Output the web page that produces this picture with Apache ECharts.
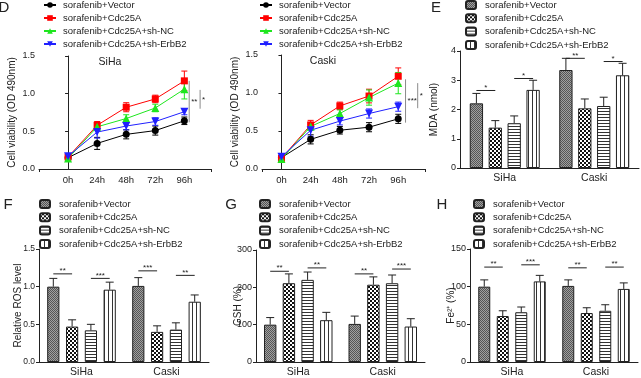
<!DOCTYPE html>
<html>
<head>
<meta charset="utf-8">
<script src="https://cdn.jsdelivr.net/npm/echarts@6/dist/echarts.min.js"></script>
<style>
html, body { margin: 0; padding: 0; background: #fff; }
#wrap { position: relative; width: 641px; height: 378px; overflow: hidden; }
.p { position: absolute; left: 0; top: 0; width: 641px; height: 378px; }
</style>
</head>
<body>
<div id="wrap">
  <div class="p" id="d1"></div>
  <div class="p" id="d2"></div>
  <div class="p" id="e"></div>
  <div class="p" id="f"></div>
  <div class="p" id="g"></div>
  <div class="p" id="h"></div>
</div>
<script>
var groups = ['sorafenib+Vector', 'sorafenib+Cdc25A', 'sorafenib+Cdc25A+sh-NC', 'sorafenib+Cdc25A+sh-ErbB2'];
var hours = [0, 24, 48, 72, 96];
var cells = ['SiHa', 'Caski'];

// D - cell viability, SiHa
var sihaVector = [0.15, 0.34, 0.46, 0.51, 0.64];
var sihaVectorErr = [0.02, 0.08, 0.06, 0.06, 0.05];
var sihaCdc = [0.16, 0.58, 0.82, 0.93, 1.17];
var sihaCdcErr = [0.02, 0.05, 0.06, 0.05, 0.13];
var sihaNC = [0.14, 0.56, 0.67, 0.81, 1.06];
var sihaNCErr = [0.02, 0.04, 0.05, 0.05, 0.13];
var sihaErb = [0.17, 0.49, 0.57, 0.63, 0.76];
var sihaErbErr = [0.02, 0.08, 0.05, 0.05, 0.04];
// D - cell viability, Caski
var caskiVector = [0.15, 0.39, 0.51, 0.55, 0.66];
var caskiVectorErr = [0.02, 0.06, 0.05, 0.06, 0.06];
var caskiCdc = [0.14, 0.58, 0.83, 0.96, 1.22];
var caskiCdcErr = [0.02, 0.06, 0.05, 0.09, 0.11];
var caskiNC = [0.13, 0.56, 0.73, 0.94, 1.13];
var caskiNCErr = [0.02, 0.05, 0.05, 0.10, 0.14];
var caskiErb = [0.16, 0.51, 0.63, 0.73, 0.82];
var caskiErbErr = [0.02, 0.08, 0.05, 0.06, 0.06];
// significance: [hour position, from, to, label]
var sigD1 = [[100, 1.17, 0.62, '**'], [109, 1.05, 0.80, '*']];
var sigD2 = [[102, 1.18, 0.61, '***'], [112, 1.13, 0.80, '*']];

// E - MDA (nmol), [SiHa, Caski]
var mdaVector = [2.21, 3.35], mdaVectorErr = [0.34, 0.40];
var mdaCdc = [1.38, 2.04], mdaCdcErr = [0.24, 0.32];
var mdaNC = [1.53, 2.12], mdaNCErr = [0.25, 0.30];
var mdaErb = [2.67, 3.17], mdaErbErr = [0.33, 0.41];
var sigE = [[0, 0, 1, 2.65, '*'], [0, 2, 3, 3.06, '*'], [1, 0, 1, 3.75, '**'], [1, 2, 3, 3.64, '*']];

// F - relative ROS level
var rosVector = [1.0, 1.01], rosVectorErr = [0.11, 0.11];
var rosCdc = [0.47, 0.40], rosCdcErr = [0.09, 0.08];
var rosNC = [0.42, 0.43], rosNCErr = [0.08, 0.09];
var rosErb = [0.96, 0.80], rosErbErr = [0.10, 0.09];
var sigF = [[0, 0, 1, 1.17, '**'], [0, 2, 3, 1.11, '***'], [1, 0, 1, 1.21, '***'], [1, 2, 3, 1.15, '**']];

// G - GSH (%)
var gshVector = [100, 102], gshVectorErr = [19, 21];
var gshCdc = [211, 207], gshCdcErr = [25, 21];
var gshNC = [220, 211], gshNCErr = [21, 22];
var gshErb = [112, 95], gshErbErr = [21, 21];
var sigG = [[0, 0, 1, 243, '**'], [0, 2, 3, 252, '**'], [1, 0, 1, 236, '**'], [1, 2, 3, 249, '***']];

// H - Fe2+ (%)
var feVector = [100, 101], feVectorErr = [9, 8];
var feCdc = [61, 65], feCdcErr = [7, 7];
var feNC = [66, 68], feNCErr = [7, 8];
var feErb = [107, 97], feErbErr = [8, 8];
var sigH = [[0, 0, 1, 126, '**'], [0, 2, 3, 129, '***'], [1, 0, 1, 125, '**'], [1, 2, 3, 126, '**']];

var FONT = 'Liberation Sans, Arial, sans-serif';
var INK = '#222';

// fill patterns for the bar groups
function pattern(kind) {
    var c = document.createElement('canvas');
    var ctx;
    if (kind == 'grid') {
        c.width = 2; c.height = 2; ctx = c.getContext('2d');
        ctx.fillStyle = '#a0a0a0'; ctx.fillRect(0, 0, 2, 2);
        ctx.fillStyle = '#555'; ctx.fillRect(0, 0, 1, 1); ctx.fillRect(1, 1, 1, 1);
    } else if (kind == 'check') {
        c.width = 4; c.height = 4; ctx = c.getContext('2d');
        ctx.fillStyle = '#111'; ctx.fillRect(0, 0, 4, 4);
        ctx.fillStyle = '#fff'; ctx.fillRect(0, 0, 2, 2); ctx.fillRect(2, 2, 2, 2);
    } else if (kind == 'hline') {
        c.width = 3; c.height = 3; ctx = c.getContext('2d');
        ctx.fillStyle = '#fff'; ctx.fillRect(0, 0, 3, 3);
        ctx.fillStyle = '#333'; ctx.fillRect(0, 0, 3, 1);
    } else {
        c.width = 4; c.height = 4; ctx = c.getContext('2d');
        ctx.fillStyle = '#fff'; ctx.fillRect(0, 0, 4, 4);
        ctx.fillStyle = '#333'; ctx.fillRect(0, 0, 1, 4);
    }
    return { image: c, repeat: 'repeat' };
}
var fills = [pattern('grid'), pattern('check'), pattern('hline'), pattern('vline')];

function letter(t, x, y) {
    return { type: 'text', x: x, y: y, style: { text: t, font: '15px ' + FONT, fill: INK, align: 'center', verticalAlign: 'middle' } };
}

// ---------- line panels (D) ----------
var lineColors = ['#000000', '#ff0000', '#1ee61e', '#2020ff'];
var lineSymbols = ['circle', 'rect', 'triangle', 'triangle'];

function lineErr(vals, errs, color) {
    return {
        type: 'custom', silent: true, z: 1,
        data: vals.map(function (v, i) { return [hours[i], v, errs[i]]; }),
        encode: { x: 0, y: 1 },
        renderItem: function (params, api) {
            var lo = api.coord([api.value(0), api.value(1) - api.value(2)]);
            var hi = api.coord([api.value(0), api.value(1) + api.value(2)]);
            var x = lo[0];
            var st = { stroke: color, lineWidth: 1 };
            return { type: 'group', children: [
                { type: 'line', shape: { x1: x, y1: lo[1], x2: x, y2: hi[1] }, style: st },
                { type: 'line', shape: { x1: x - 3, y1: lo[1], x2: x + 3, y2: lo[1] }, style: st },
                { type: 'line', shape: { x1: x - 3, y1: hi[1], x2: x + 3, y2: hi[1] }, style: st }
            ] };
        }
    };
}

function lineSig(sig) {
    return {
        type: 'custom', silent: true, z: 5,
        data: sig.map(function (s) { return [s[0], s[1], s[2]]; }),
        encode: { x: 0, y: 1 },
        renderItem: function (params, api) {
            var a = api.coord([api.value(0), api.value(1)]);
            var b = api.coord([api.value(0), api.value(2)]);
            return { type: 'group', children: [
                { type: 'line', shape: { x1: a[0], y1: a[1], x2: b[0], y2: b[1] }, style: { stroke: '#8a8a8a', lineWidth: 1 } },
                { type: 'text', x: a[0] + 2, y: (a[1] + b[1]) / 2, style: { text: sig[params.dataIndex][3], font: '8px ' + FONT, fill: INK, align: 'left', verticalAlign: 'middle' } }
            ] };
        }
    };
}

function linePanel(id, box, xmin, means, errs, sig, title, titleX, titleY, legendLeft, extra) {
    var chart = echarts.init(document.getElementById(id));
    var series = [];
    for (var k = 0; k < 4; k++) series.push(lineErr(means[k], errs[k], lineColors[k]));
    for (var k = 0; k < 4; k++) {
        series.push({
            name: groups[k], type: 'line', z: 3,
            data: means[k].map(function (v, i) { return [hours[i], v]; }),
            symbol: lineSymbols[k], symbolRotate: k == 3 ? 180 : 0,
            symbolSize: k >= 2 ? 8 : 7,
            itemStyle: { color: lineColors[k] },
            lineStyle: { color: lineColors[k], width: 1 }
        });
    }
    series.push(lineSig(sig));
    var option = {
        animation: false,
        textStyle: { fontFamily: FONT },
        legend: {
            data: groups, orient: 'vertical', left: legendLeft, top: 0, padding: 0,
            itemWidth: 12, itemHeight: 7, itemGap: 3,
            textStyle: { fontSize: 9.5, color: INK, lineHeight: 10, padding: [0, 0, 0, 2] }
        },
        grid: { left: box[0], top: box[1], width: box[2], height: box[3] },
        xAxis: {
            type: 'value', min: xmin, max: 118,
            axisLine: { lineStyle: { color: INK } },
            splitLine: { show: false },
            axisTick: { customValues: [xmin, 118], length: 3, lineStyle: { color: INK } },
            axisLabel: { customValues: hours, formatter: '{value}h', fontSize: 9.5, color: INK, margin: 6 }
        },
        yAxis: {
            type: 'value', min: 0, max: 1.5, interval: 0.5,
            name: 'Cell viability (OD 490nm)', nameLocation: 'middle', nameGap: 22,
            nameMoveOverlap: false,
            nameTextStyle: { fontSize: 10, color: INK },
            axisLine: { show: true, lineStyle: { color: INK } },
            splitLine: { show: false },
            axisTick: { show: true, length: 3, lineStyle: { color: INK } },
            axisLabel: { fontSize: 9, color: INK, margin: 4, formatter: function (v) { return v.toFixed(1); } }
        },
        graphic: [
            { type: 'text', x: titleX, y: titleY, style: { text: title, font: '10.5px ' + FONT, fill: INK, align: 'center', verticalAlign: 'middle' } }
        ].concat(extra),
        series: series
    };
    chart.setOption(option);
}

linePanel('d1', [39, 56, 172, 113], -24,
    [sihaVector, sihaCdc, sihaNC, sihaErb], [sihaVectorErr, sihaCdcErr, sihaNCErr, sihaErbErr],
    sigD1, 'SiHa', 110, 62, 43, [letter('D', 4, 8)]);
linePanel('d2', [262, 55, 163, 114], -16,
    [caskiVector, caskiCdc, caskiNC, caskiErb], [caskiVectorErr, caskiCdcErr, caskiNCErr, caskiErbErr],
    sigD2, 'Caski', 323, 61, 259, []);

// ---------- bar panels (E-H) ----------
function barOffset(idx, w, gap) {
    var tot = 4 * w + 3 * gap;
    return -tot / 2 + w / 2 + idx * (w + gap);
}

function barErr(vals, errs, idx, w, gap) {
    return {
        type: 'custom', silent: true, z: 4,
        data: vals.map(function (v, i) { return [i, v, errs[i]]; }),
        encode: { x: 0, y: 1 },
        renderItem: function (params, api) {
            var p0 = api.coord([api.value(0), api.value(1)]);
            var p1 = api.coord([api.value(0), api.value(1) + api.value(2)]);
            var x = p0[0] + barOffset(idx, w, gap);
            var st = { stroke: INK, lineWidth: 1 };
            return { type: 'group', children: [
                { type: 'line', shape: { x1: x, y1: p0[1], x2: x, y2: p1[1] }, style: st },
                { type: 'line', shape: { x1: x - 4, y1: p1[1], x2: x + 4, y2: p1[1] }, style: st }
            ] };
        }
    };
}

function barSig(sig, w, gap) {
    return {
        type: 'custom', silent: true, z: 5,
        data: sig.map(function (s) { return [s[0], s[3]]; }),
        encode: { x: 0, y: 1 },
        renderItem: function (params, api) {
            var s = sig[params.dataIndex];
            var p = api.coord([api.value(0), api.value(1)]);
            var x1 = p[0] + barOffset(s[1], w, gap);
            var x2 = p[0] + barOffset(s[2], w, gap);
            return { type: 'group', children: [
                { type: 'line', shape: { x1: x1, y1: p[1], x2: x2, y2: p[1] }, style: { stroke: INK, lineWidth: 1 } },
                { type: 'text', x: (x1 + x2) / 2, y: p[1] + 1, style: { text: s[4], font: '8px ' + FONT, fill: INK, align: 'center', verticalAlign: 'bottom' } }
            ] };
        }
    };
}

function barPanel(id, box, ymax, step, yname, nameGap, means, errs, sig, w, gap, legendLeft, legendTop, extra) {
    var chart = echarts.init(document.getElementById(id));
    var series = [];
    for (var k = 0; k < 4; k++) {
        series.push({
            name: groups[k], type: 'bar', z: 2,
            data: means[k],
            barWidth: w, barGap: (gap / w * 100) + '%',
            itemStyle: { color: fills[k], borderColor: INK, borderWidth: 1 }
        });
    }
    for (var k = 0; k < 4; k++) series.push(barErr(means[k], errs[k], k, w, gap));
    series.push(barSig(sig, w, gap));
    var option = {
        animation: false,
        textStyle: { fontFamily: FONT },
        legend: {
            data: groups, orient: 'vertical', left: legendLeft, top: legendTop, padding: 0,
            itemWidth: 10, itemHeight: 8, itemGap: 3.3,
            textStyle: { fontSize: 9.5, color: INK, lineHeight: 10, padding: [0, 0, 0, 4] }
        },
        grid: { left: box[0], top: box[1], width: box[2], height: box[3] },
        xAxis: {
            type: 'category', data: cells,
            axisLine: { lineStyle: { color: INK } },
            axisTick: { alignWithLabel: true, length: 3, lineStyle: { color: INK } },
            axisLabel: { fontSize: 10.5, color: INK, margin: 5 }
        },
        yAxis: {
            type: 'value', min: 0, max: ymax, interval: step,
            name: yname, nameLocation: 'middle', nameGap: nameGap,
            nameMoveOverlap: false,
            nameTextStyle: { fontSize: 10, color: INK },
            axisLine: { show: true, lineStyle: { color: INK } },
            splitLine: { show: false },
            axisTick: { show: true, length: 3, lineStyle: { color: INK } },
            axisLabel: { fontSize: step < 1 ? 8.5 : 9, color: INK, margin: 4, formatter: step < 1 ? function (v) { return v.toFixed(1); } : '{value}' }
        },
        graphic: extra,
        series: series
    };
    chart.setOption(option);
}

barPanel('e', [460, 51, 179, 117], 4, 1, 'MDA (nmol)', 21,
    [mdaVector, mdaCdc, mdaNC, mdaErb], [mdaVectorErr, mdaCdcErr, mdaNCErr, mdaErbErr],
    sigE, 13.3, 5.6, 465, 0, [letter('E', 436, 8)]);
barPanel('f', [39, 249, 170, 113], 1.5, 0.5, 'Relative ROS level', 16,
    [rosVector, rosCdc, rosNC, rosErb], [rosVectorErr, rosCdcErr, rosNCErr, rosErbErr],
    sigF, 12.2, 6.6, 39, 199, [letter('F', 8, 205)]);
barPanel('g', [256, 250, 169, 112], 300, 100, 'GSH (%)', 13,
    [gshVector, gshCdc, gshNC, gshErb], [gshVectorErr, gshCdcErr, gshNCErr, gshErbErr],
    sigG, 12.4, 6.3, 259, 199, [letter('G', 231, 205)]);
barPanel('h', [470, 249, 168, 113], 150, 50, 'Fe²⁺ (%)', 14,
    [feVector, feCdc, feNC, feErb], [feVectorErr, feCdcErr, feNCErr, feErbErr],
    sigH, 12, 6.5, 473, 199, [letter('H', 442, 205)]);
</script>
</body>
</html>
